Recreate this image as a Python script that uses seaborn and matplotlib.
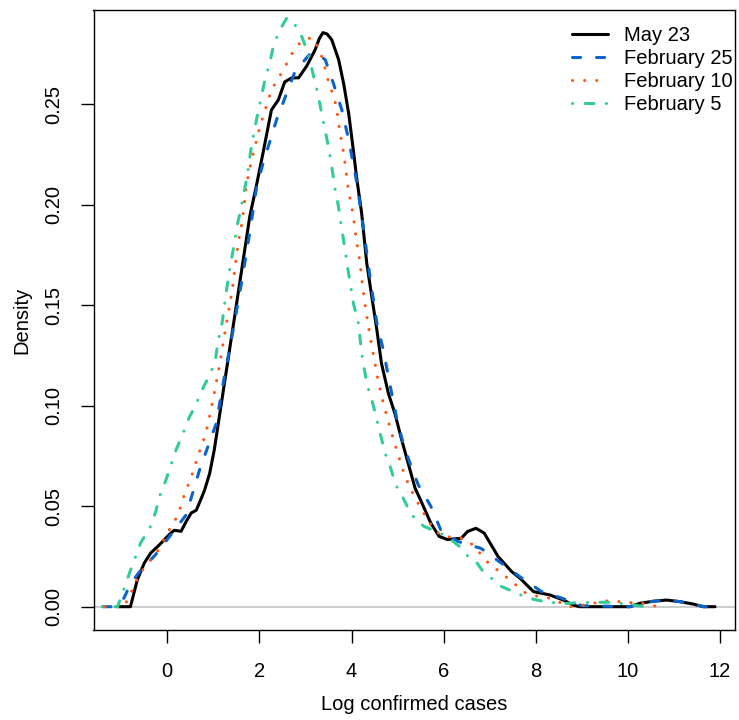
import numpy as np
import pandas as pd
import matplotlib
matplotlib.use("Agg")
import matplotlib.pyplot as plt
import seaborn as sns

# ---------------- data ----------------
may23_x = [-1.07, -0.80, -0.65, -0.50, -0.36, -0.17, 0.04, 0.15, 0.30, 0.41, 0.52, 0.63, 0.74, 0.81,
           0.92, 1.02, 1.13, 1.24, 1.35, 1.46, 1.57, 1.68, 1.79, 1.94, 2.09, 2.26, 2.41, 2.55, 2.70,
           2.85, 3.03, 3.21, 3.30, 3.38, 3.47, 3.57, 3.72, 3.83, 3.94, 4.05, 4.11, 4.22, 4.33, 4.44, 4.55, 4.65,
           4.80, 4.94, 5.09, 5.23, 5.38, 5.50, 5.72, 5.90, 6.08, 6.38, 6.52, 6.70, 6.88, 7.18, 7.47,
           7.66, 7.95, 8.31, 8.60, 8.81, 8.95, 10.05, 10.26, 10.55, 10.84, 11.13, 11.42, 11.64, 11.89]
may23_y = [0, 0, .0134, .0217, .0267, .0308, .0358, .038, .0375, .0424, .0466, .048, .054, .058,
           .0663, .078, .0945, .111, .1276, .144, .1607, .1773, .194, .210, .227, .247, .252, .261, .263,
           .263, .269, .277, .2825, .2855, .2848, .282, .272, .260, .245, .225, .2135, .1956, .1708, .1542, .1376, .121,
           .1061, .0962, .0829, .0713, .0589, .053, .0416, .035, .0334, .034, .0374, .039, .0366, .025, .0176,
           .0141, .0075, .0058, .0033, .0008, 0, 0, .0017, .0027, .0033, .0025, .0013, 0, 0]

feb25_x = [-1.40, -1.15, -0.94, -0.79, -0.58, -0.25, 0.08, 0.41, 0.55, 0.70, 1.06, 1.24, 1.43, 1.61,
           1.79, 1.94, 2.08, 2.37, 2.77, 3.10, 3.28, 3.43, 3.61, 3.79, 3.94, 4.11, 4.26, 4.40, 4.55,
           4.69, 4.80, 4.98, 5.12, 5.27, 5.45, 5.72, 5.94, 6.30, 6.81, 7.25, 7.69, 8.12, 8.56, 9.00,
           10.05, 10.26, 10.55, 10.84, 11.13, 11.42, 11.64, 11.89]
feb25_y = [0, 0, .0043, .0118, .018, .026, .0358, .0457, .0565, .068, .091, .1145, .1377, .161,
           .186, .209, .2205, .242, .266, .275, .2745, .272, .260, .247, .232, .2114, .188, .164, .141,
           .1277, .1144, .0937, .0813, .0713, .0605, .05, .038, .0325, .029, .0217, .0143, .0076, .0043, .0005,
           0, .0017, .0027, .0033, .0025, .0013, 0, 0]

feb10_x = [-1.35, -0.94, -0.83, -0.72, -0.61, -0.45, -0.28, -0.14, -0.01, 0.12, 0.24, 0.39, 0.50, 0.66,
           0.84, 1.00, 1.14, 1.27, 1.41, 1.54, 1.63, 1.72, 1.83, 2.01, 2.26, 2.52, 2.77, 2.95, 3.16, 3.28,
           3.38, 3.50, 3.60, 3.67, 3.74, 3.83, 3.93, 4.03, 4.10, 4.18, 4.24, 4.31, 4.39, 4.49, 4.58, 4.70,
           4.84, 4.98, 5.14, 5.25, 5.50, 5.79, 5.98, 6.41, 6.63, 6.96, 7.18, 7.40, 7.61, 7.77, 8.02, 8.31,
           8.53, 8.77, 9.03, 9.32, 9.58, 9.83, 10.08, 10.33, 10.59, 10.84]
feb10_y = [0, 0, .005, .0104, .0159, .0209, .0253, .0303, .0363, .041, .046, .0573, .063, .0746,
           .0863, .1037, .121, .139, .1576, .181, .192, .2105, .222, .2387, .257, .267, .2777, .282, .283, .2777,
           .272, .261, .2545, .2487, .237, .2255, .2072, .1956, .1832, .1716, .1595, .1476, .136, .1235, .1119, .1003,
           .0887, .0779, .0663, .06, .049, .0383, .035, .0341, .0308, .022, .018, .014, .010, .007, .0053, .0042,
           .002, 0, .0008, .002, .003, .0025, .002, .0017, .0003, 0]

feb5_x = [-1.41, -1.08, -0.94, -0.79, -0.70, -0.58, -0.38, -0.25, -0.17, -0.03, 0.19, 0.33, 0.47, 0.63,
          0.79, 0.94, 1.05, 1.10, 1.19, 1.28, 1.39, 1.46, 1.51, 1.59, 1.66, 1.73, 1.83, 1.97, 2.12, 2.23,
          2.30, 2.42, 2.60, 2.81, 2.92, 3.06, 3.17, 3.25, 3.33, 3.41, 3.47, 3.55, 3.64, 3.71, 3.82, 3.93,
          4.04, 4.15, 4.22, 4.33, 4.46, 4.55, 4.63, 4.73, 4.84, 4.96, 5.10, 5.25, 5.39, 5.57, 5.83, 6.05,
          6.34, 6.56, 6.70, 6.88, 7.03, 7.25, 7.50, 7.84, 8.20, 8.60, 8.92, 9.28, 9.64, 10.0, 10.37]
feb5_y = [0, 0, .0088, .0187, .0242, .0317, .039, .0474, .0548, .063, .078, .0855, .0938, .101,
          .1095, .116, .1236, .1317, .141, .1567, .1725, .181, .189, .197, .2055, .2135, .2296, .246, .262, .271,
          .2784, .286, .293, .2884, .2835, .275, .2644, .257, .248, .2387, .232, .222, .208, .1998, .1832, .1666,
          .1509, .1409, .126, .1111, .1012, .0929, .0854, .0763, .0696, .0605, .055, .048, .0432, .040, .0374, .0353,
          .030, .0242, .0225, .0167, .0143, .0101, .0076, .0042, .0025, .0015, .002, .0022, .0022, .0012, 0]

series_labels = ["May 23", "February 25", "February 10", "February 5"]
x_ticks = [0, 2, 4, 6, 8, 10, 12]
y_ticks = [0.00, 0.05, 0.10, 0.15, 0.20, 0.25]
y_tick_labels = ["0.00", "0.05", "0.10", "0.15", "0.20", "0.25"]

# ---------------- style ----------------
sns.set_style("white")
plt.rcParams["font.family"] = ["Liberation Sans", "DejaVu Sans"]
plt.rcParams["lines.scale_dashes"] = False
plt.rcParams["text.color"] = "black"
plt.rcParams["axes.labelcolor"] = "black"
plt.rcParams["xtick.color"] = "black"
plt.rcParams["ytick.color"] = "black"

FS = 14.5
colors = ["#000000", "#0A64CC", "#FF5511", "#33CC99"]
styles = ["-", (0, (5.8, 11.5)), (0, (0.1, 8.6)), (0, (0.1, 9.0, 6.3, 9.0))]

W, H = 739, 720
fig = plt.figure(figsize=(W / 100, H / 100), dpi=100)
L, R, T, B = 93.5, 735, 10, 630
ax = fig.add_axes([L / W, 1 - B / H, (R - L) / W, (B - T) / H])

ax.axhline(0, color="#BEBEBE", lw=1.1, zorder=1)

xs = [may23_x, feb25_x, feb10_x, feb5_x]
ys = [may23_y, feb25_y, feb10_y, feb5_y]
for i, (lab, xx, yy) in enumerate(zip(series_labels, xs, ys)):
    df = pd.DataFrame({"x": xx, "y": yy})
    sns.lineplot(data=df, x="x", y="y", ax=ax, color=colors[i], linestyle=styles[i],
                 lw=2.2, label=lab, estimator=None, sort=False,
                 dash_capstyle="round", solid_capstyle="round", solid_joinstyle="round",
                 zorder=2 + i)

ax.set_xlim(-1.602, 12.325)
ax.set_ylim(-0.01159, 0.29675)
ax.set_xticks(x_ticks)
ax.set_xticklabels([str(t) for t in x_ticks])
ax.set_yticks(y_ticks)
ax.set_yticklabels(y_tick_labels, rotation=90, va="center")

for s in ax.spines.values():
    s.set_visible(True)
    s.set_color("black")
    s.set_linewidth(1.0)

ax.tick_params(axis="both", which="major", direction="out", length=9.4, width=1.0,
               color="black", labelsize=FS, labelcolor="black",
               bottom=True, left=True, top=False, right=False)
ax.tick_params(axis="x", pad=13.5)
ax.tick_params(axis="y", pad=12.5)

ax.set_xlabel("Log confirmed cases", fontsize=FS, color="black")
ax.set_ylabel("Density", fontsize=FS, color="black")
ax.xaxis.set_label_coords(0.5, (B - 705) / (B - T))
ax.xaxis.label.set_va("center")
ax.yaxis.set_label_coords((22 - L) / (R - L), 0.5)
ax.yaxis.label.set_va("center")

leg = ax.legend(loc="upper left", bbox_to_anchor=(571.7 / W, 1 - 26.0 / H),
                bbox_transform=fig.transFigure, frameon=False, fontsize=FS,
                handlelength=1.8, handletextpad=0.8, labelspacing=0.2,
                borderpad=0, borderaxespad=0)
for t in leg.get_texts():
    t.set_color("black")

fig.savefig("out.png", dpi=100)
